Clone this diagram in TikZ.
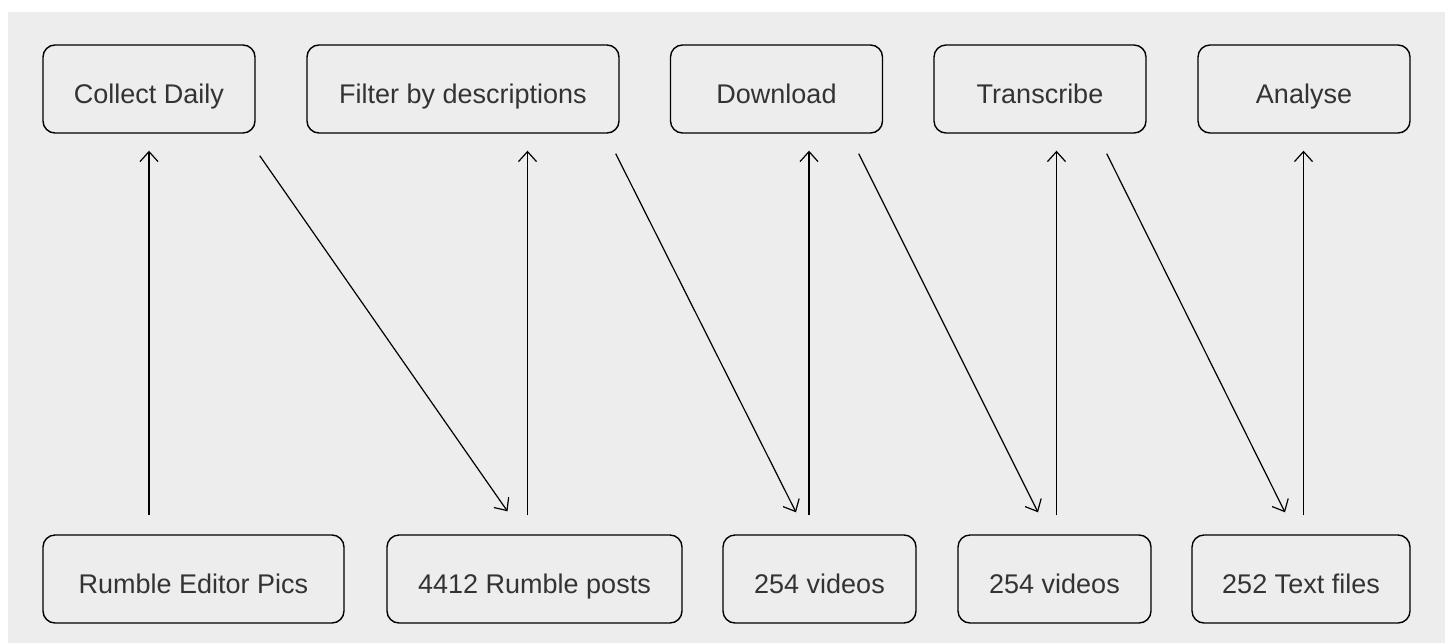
\documentclass[tikz,border=0pt]{standalone}
\usepackage{fontspec}
\setmainfont{Liberation Sans}
\usepackage{xcolor}
\usetikzlibrary{arrows.meta,positioning,calc}
\definecolor{panelgray}{HTML}{EDEDED}
\definecolor{labelgray}{HTML}{333333}

\begin{document}
\begin{tikzpicture}[
    x=0.5pt, y=-0.5pt,
    box/.style={rectangle, draw, rounded corners=6pt, line width=0.7pt, minimum height=44pt, text height=14pt, text depth=0pt, text=labelgray, font=\fontsize{13.5}{16}\selectfont},
    arrow/.style={-{Straight Barb[length=5pt,width=9pt]}, line width=0.6pt}
]
    \useasboundingbox (0,0) rectangle (1450,643);
    \fill[panelgray] (8,12) rectangle (1445,643);

    \node[box, minimum width=106pt] (collect) at (149,89) {Collect Daily};
    \node[box, minimum width=156pt] (filter) at (463,89) {Filter by descriptions};
    \node[box, minimum width=106pt] (download) at (776.5,89) {Download};
    \node[box, minimum width=106pt] (transcribe) at (1040,89) {Transcribe};
    \node[box, minimum width=106pt] (analyse) at (1304,89) {Analyse};

    \node[box, minimum width=150.5pt] (editor) at (193.5,579) {Rumble Editor Pics};
    \node[box, minimum width=147.5pt] (posts) at (534.5,579) {4412 Rumble posts};
    \node[box, minimum width=96.5pt] (videosA) at (819.5,579) {254 videos};
    \node[box, minimum width=96.5pt] (videosB) at (1054.5,579) {254 videos};
    \node[box, minimum width=109pt] (textfiles) at (1301,579) {252 Text files};

    \draw[arrow] ($(editor.north -| collect.south)+(0,-19)$) -- ($(collect.south)+(0,17)$);
    \draw[arrow] ($(posts.north)+(-7,-19)$) -- ($(posts.north |- filter.south)+(-7,17)$);
    \draw[arrow] ($(videosA.north)+(-10.5,-19)$) -- ($(videosA.north |- download.south)+(-10.5,17)$);
    \draw[arrow] ($(videosB.north)+(2,-19)$) -- ($(videosB.north |- transcribe.south)+(2,17)$);
    \draw[arrow] ($(textfiles.north)+(2.5,-19)$) -- ($(textfiles.north |- analyse.south)+(2.5,17)$);

    \draw[arrow] ($(collect.south east)+(4,22)$) -- ($(posts.north)+(-27,-23)$);
    \draw[arrow] ($(filter.south east)+(-4,20)$) -- ($(videosA.north)+(-23.5,-22)$);
    \draw[arrow] ($(download.south east)+(-24.5,20)$) -- ($(videosB.north)+(-16.5,-22)$);
    \draw[arrow] ($(transcribe.south east)+(-40,20)$) -- ($(textfiles.north)+(-16,-22)$);
\end{tikzpicture}
\end{document}
